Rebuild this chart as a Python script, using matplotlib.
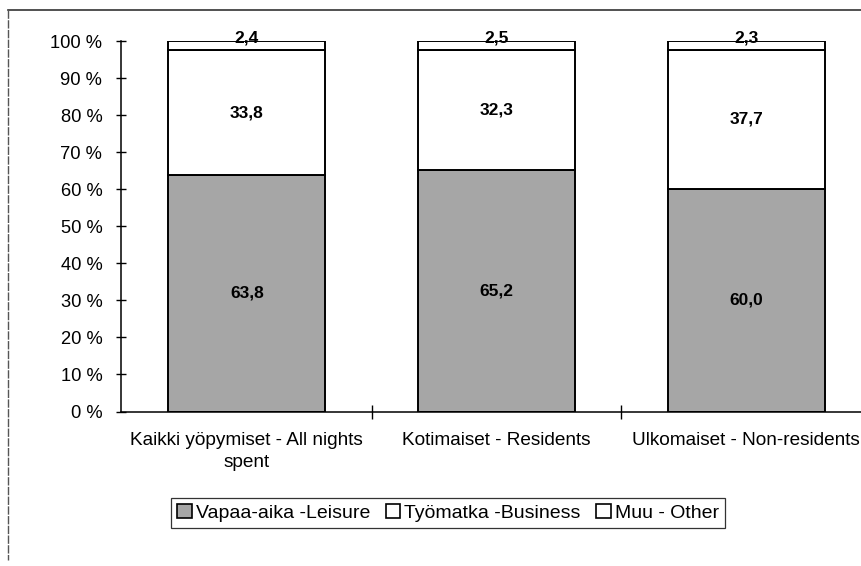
import numpy as np
import matplotlib.pyplot as plt
from matplotlib.lines import Line2D

plt.rcParams['font.family'] = ['Liberation Sans', 'DejaVu Sans']

# data
categories = ['Kaikki yöpymiset - All nights\nspent', 'Kotimaiset - Residents',
              'Ulkomaiset - Non-residents']
leisure = [63.8, 65.2, 60.0]
business = [33.8, 32.3, 37.7]
other = [2.4, 2.5, 2.3]
series_names = ['Vapaa-aika -Leisure', 'Työmatka -Business', 'Muu - Other']
yticks = [0, 10, 20, 30, 40, 50, 60, 70, 80, 90, 100]

fig = plt.figure(figsize=(8.61, 5.66), dpi=100)
ax = fig.add_axes([121 / 861, 154.5 / 566, 750 / 861, 370.5 / 566])

x = np.arange(len(categories))
w = 0.63
series = [leisure, business, other]
colors = ['#a6a6a6', 'white', 'white']
bottom = np.zeros(len(categories))
for i, (vals, col) in enumerate(zip(series, colors)):
    ax.bar(x, vals, w, bottom=bottom, color=col, edgecolor='black',
           linewidth=1.4, label=series_names[i])
    for xi, v, b0 in zip(x, vals, bottom):
        txt = f'{v:.1f}'.replace('.', ',')
        va = 'bottom' if i == 2 else 'center'
        ax.text(xi, b0 + v / 2, txt, ha='center', va=va,
                fontsize=12.5, fontweight='bold')
    bottom = bottom + np.array(vals)

ax.set_xlim(-0.504, 2.5)
ax.set_ylim(0, 100)
ax.set_yticks(yticks)
ax.set_yticklabels([f'{t} %' for t in yticks], fontsize=13.2)
ax.tick_params(axis='y', direction='inout', length=7, width=1, pad=10)

ax.set_xticks([0.5, 1.5])
ax.set_xticklabels(['', ''])
ax.set_xticks(x, minor=True)
ax.set_xticklabels(categories, minor=True, fontsize=13.7, linespacing=1.38)
ax.tick_params(axis='x', which='major', direction='inout', length=10, width=1)
ax.tick_params(axis='x', which='minor', length=0, pad=15)

for s in ['top', 'right']:
    ax.spines[s].set_visible(False)
for s in ['left', 'bottom']:
    ax.spines[s].set_linewidth(1.1)

leg = ax.legend(loc='center', bbox_to_anchor=(448 / 861, 1 - 513 / 566),
                bbox_transform=fig.transFigure, ncol=3, fontsize=14,
                frameon=True, fancybox=False, handlelength=0.75,
                handleheight=0.75, handletextpad=0.2, columnspacing=0.8,
                borderpad=0.3, borderaxespad=0)
leg.get_frame().set_edgecolor('black')
leg.get_frame().set_linewidth(0.9)
for h in leg.legend_handles:
    h.set_linewidth(1.2)

# outer chart border (partial)
fig.add_artist(Line2D([8 / 861, 1], [1 - 10 / 566, 1 - 10 / 566],
                      transform=fig.transFigure, color='#333333', lw=1.2))
fig.add_artist(Line2D([8 / 861, 8 / 861], [1 - 10 / 566, 0.01],
                      transform=fig.transFigure, color='#555555', lw=1,
                      linestyle=(0, (6, 1))))

fig.savefig('out.png', dpi=100)
